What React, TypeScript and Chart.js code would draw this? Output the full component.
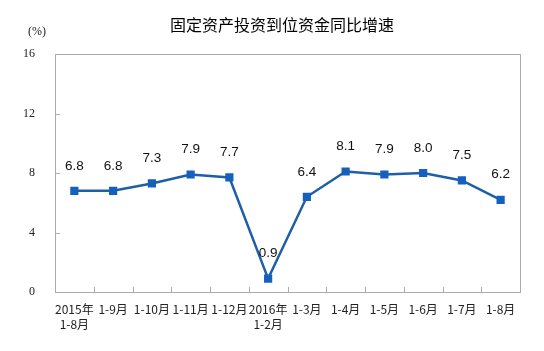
import React, { useEffect, useRef } from "react";
import { Chart, registerables } from "chart.js";

Chart.register(...registerables);

const categories: string[][] = [
  ["2015年", "1-8月"],
  ["1-9月"],
  ["1-10月"],
  ["1-11月"],
  ["1-12月"],
  ["2016年", "1-2月"],
  ["1-3月"],
  ["1-4月"],
  ["1-5月"],
  ["1-6月"],
  ["1-7月"],
  ["1-8月"],
];
const values: number[] = [6.8, 6.8, 7.3, 7.9, 7.7, 0.9, 6.4, 8.1, 7.9, 8.0, 7.5, 6.2];
const yTicks: number[] = [0, 4, 8, 12, 16];
const titleText = "固定资产投资到位资金同比增速";
const unitText = "(%)";

const lineColor = "#1F5FA6";
const markerColor = "#1560BD";

const decorPlugin = {
  id: "decor",
  afterDraw(chart: any) {
    const ctx = chart.ctx;
    const a = chart.chartArea;
    const ys = chart.scales.y;
    ctx.save();
    ctx.strokeStyle = "#ABABAB";
    ctx.lineWidth = 1;
    ctx.strokeRect(Math.round(a.left) + 0.5, Math.round(a.top) + 0.5, Math.round(a.right - a.left), Math.round(a.bottom - a.top));
    ctx.beginPath();
    const n = categories.length;
    const step = (a.right - a.left) / n;
    for (let i = 1; i < n; i++) {
      const x = Math.round(a.left + step * i) + 0.5;
      ctx.moveTo(x, a.bottom);
      ctx.lineTo(x, a.bottom - 5);
    }
    for (const t of yTicks) {
      const y = Math.round(ys.getPixelForValue(t)) + 0.5;
      ctx.moveTo(a.left, y);
      ctx.lineTo(a.left + 5, y);
    }
    ctx.stroke();
    ctx.fillStyle = "#000";
    ctx.font = "16px 'Noto Sans CJK SC'";
    ctx.textAlign = "center";
    ctx.textBaseline = "middle";
    ctx.fillText(titleText, 282, 25);
    ctx.font = "12px 'Liberation Serif'";
    ctx.fillStyle = "#222";
    ctx.fillText(unitText, 37, 32);
    ctx.font = "13.5px 'Liberation Sans'";
    ctx.fillStyle = "#111";
    const meta = chart.getDatasetMeta(0);
    meta.data.forEach((p: any, i: number) => {
      ctx.fillText(values[i].toFixed(1), p.x, p.y - 25);
    });
    ctx.restore();
  },
};

export default function App() {
  const ref = useRef<HTMLCanvasElement>(null);
  useEffect(() => {
    const chart = new Chart(ref.current!, {
      type: "line",
      data: {
        labels: categories,
        datasets: [
          {
            data: values,
            borderColor: lineColor,
            backgroundColor: markerColor,
            borderWidth: 2.5,
            pointStyle: "rect",
            pointRadius: 5.8,
            pointBorderWidth: 0,
            pointBackgroundColor: markerColor,
            tension: 0,
          },
        ],
      },
      plugins: [decorPlugin],
      options: {
        responsive: false,
        animation: false,
        layout: { padding: { left: 0, right: 24, top: 54, bottom: 0 } },
        plugins: {
          legend: { display: false },
          title: { display: false },
          tooltip: { enabled: false },
        },
        scales: {
          x: {
            offset: true,
            grid: { display: false },
            border: { display: false },
            ticks: {
              color: "#222",
              font: { family: "'Noto Sans CJK SC'", size: 12, lineHeight: 1.25 },
              padding: 2,
              maxRotation: 0,
              autoSkip: false,
            },
            afterFit: (s: any) => {
              s.height = 59;
            },
          },
          y: {
            min: 0,
            max: 16,
            grid: { display: false },
            border: { display: false },
            ticks: {
              stepSize: 4,
              color: "#222",
              font: { family: "'Liberation Serif'", size: 12 },
              padding: 12,
            },
            afterFit: (s: any) => {
              s.width = 55;
            },
          },
        },
      },
    });
    return () => chart.destroy();
  }, []);
  return (
    <div style={{ position: "absolute", left: 0, top: 0, width: 544, height: 351, background: "#fff" }}>
      <canvas ref={ref} width={544} height={351} />
    </div>
  );
}
